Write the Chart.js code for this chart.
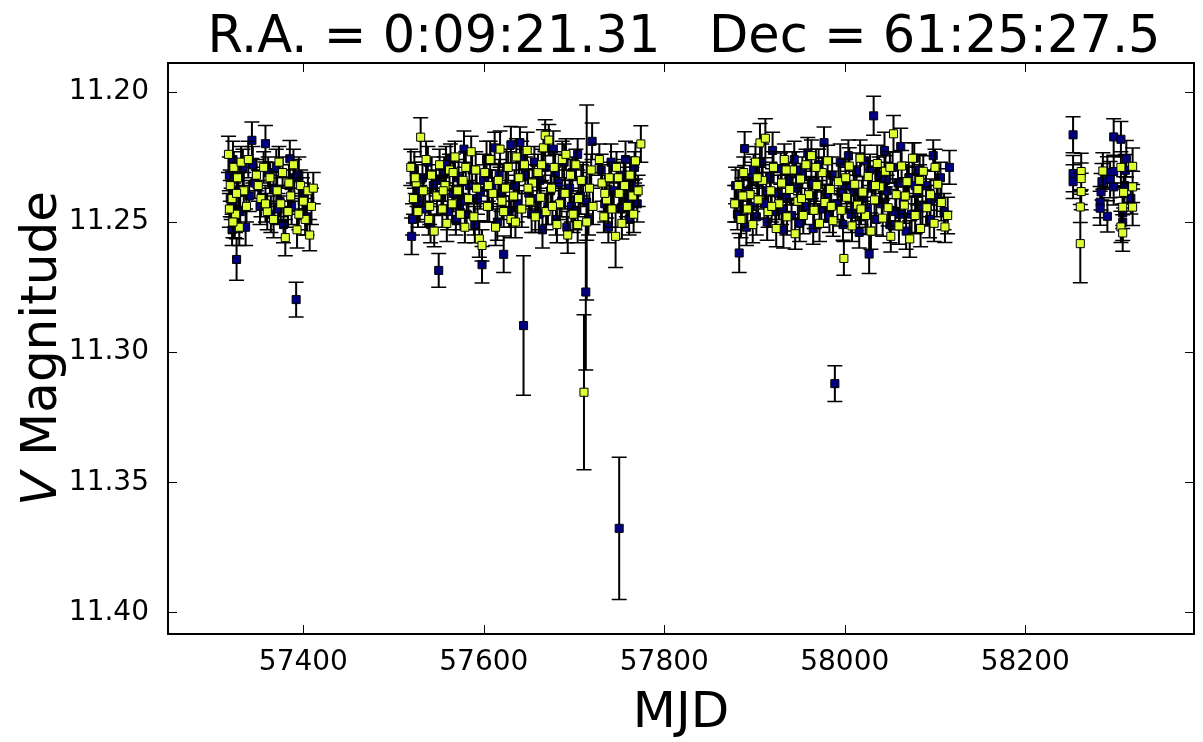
<!DOCTYPE html>
<html><head><meta charset="utf-8">
<script src="https://cdn.jsdelivr.net/npm/chart.js@4.4.1/dist/chart.umd.min.js"></script>
<style>html,body{margin:0;padding:0;background:#fff;}#wrap{width:1203px;height:742px;}</style>
</head><body><div id="wrap"><canvas id="c" width="1203" height="742"></canvas></div>
<script>
// ---- data: [MJD, V magnitude, error] ----
const navyS1 = [[57318,11.232,0.007],[57320,11.243,0.006],[57322,11.226,0.007],[57324,11.250,0.006],[57326,11.2644,0.008],[57328,11.238,0.007],[57330,11.246,0.006],[57333,11.229,0.007],[57336,11.252,0.007],[57340,11.240,0.006],[57343,11.2186,0.007],[57346,11.235,0.006],[57352,11.244,0.007],[57358,11.2199,0.007],[57361,11.231,0.006],[57364,11.247,0.007],[57367,11.237,0.006],[57370,11.229,0.007],[57374,11.242,0.006],[57378,11.251,0.007],[57385,11.2257,0.007],[57384,11.236,0.006],[57387,11.244,0.007],[57392,11.2798,0.0067],[57395,11.232,0.007],[57399,11.239,0.006],[57404,11.248,0.007],[57319,11.241,0.007],[57321,11.253,0.006],[57344,11.228,0.007],[57372,11.245,0.006],[57390,11.233,0.007]];
const yellowS1 = [[57317,11.224,0.007],[57319,11.236,0.006],[57321,11.241,0.007],[57323,11.229,0.006],[57325,11.247,0.007],[57327,11.233,0.006],[57329,11.252,0.007],[57331,11.227,0.006],[57334,11.238,0.007],[57337,11.244,0.006],[57339,11.226,0.007],[57350,11.236,0.006],[57353,11.241,0.007],[57356,11.229,0.006],[57360,11.246,0.007],[57363,11.233,0.006],[57367,11.249,0.007],[57371,11.238,0.006],[57375,11.243,0.007],[57377,11.231,0.006],[57380,11.256,0.007],[57383,11.246,0.006],[57386,11.240,0.007],[57389,11.228,0.006],[57393,11.253,0.007],[57397,11.236,0.006],[57400,11.242,0.007],[57402,11.249,0.006],[57405,11.238,0.007],[57407,11.255,0.006],[57409,11.244,0.007],[57411,11.237,0.006],[57318,11.245,0.007],[57322,11.250,0.006],[57326,11.239,0.007],[57348,11.232,0.006],[57358,11.243,0.007],[57373,11.227,0.006],[57384,11.235,0.007],[57395,11.247,0.006]];
const navyS2 = [[57520,11.2555,0.007],[57521,11.249,0.006],[57523,11.230,0.007],[57526,11.238,0.006],[57529,11.243,0.007],[57532,11.233,0.006],[57535,11.245,0.007],[57538,11.227,0.006],[57541,11.251,0.007],[57544,11.236,0.006],[57550,11.2686,0.0065],[57553,11.240,0.007],[57556,11.231,0.006],[57560,11.246,0.007],[57563,11.226,0.006],[57566,11.239,0.007],[57569,11.249,0.006],[57572,11.233,0.007],[57575,11.242,0.006],[57578,11.222,0.007],[57581,11.247,0.006],[57584,11.236,0.007],[57587,11.230,0.006],[57590,11.251,0.007],[57593,11.241,0.006],[57598,11.2664,0.007],[57600,11.234,0.006],[57603,11.226,0.007],[57606,11.244,0.006],[57609,11.237,0.007],[57612,11.2215,0.006],[57615,11.250,0.007],[57619,11.240,0.006],[57622,11.2624,0.007],[57625,11.229,0.007],[57628,11.246,0.006],[57630,11.2203,0.007],[57634,11.236,0.006],[57637,11.243,0.007],[57640,11.2195,0.006],[57644,11.2898,0.0268],[57646,11.232,0.007],[57650,11.239,0.006],[57653,11.247,0.007],[57656,11.227,0.006],[57659,11.241,0.007],[57662,11.234,0.006],[57665,11.253,0.007],[57668,11.229,0.006],[57671,11.244,0.007],[57674,11.238,0.006],[57677,11.222,0.007],[57680,11.249,0.006],[57683,11.235,0.007],[57686,11.242,0.006],[57689,11.227,0.007],[57692,11.252,0.006],[57695,11.237,0.007],[57698,11.231,0.006],[57701,11.246,0.007],[57704,11.224,0.006],[57707,11.240,0.007],[57713,11.2769,0.030],[57714,11.2425,0.0375],[57716,11.249,0.006],[57720,11.219,0.007],[57730,11.230,0.006],[57734,11.243,0.007],[57738,11.252,0.006],[57741,11.227,0.007],[57744,11.238,0.006],[57750,11.3677,0.0273],[57752,11.245,0.007],[57755,11.232,0.006],[57758,11.241,0.007],[57761,11.249,0.006],[57764,11.236,0.007],[57767,11.229,0.006],[57770,11.243,0.007],[57527,11.242,0.007],[57547,11.234,0.006],[57558,11.228,0.007],[57573,11.245,0.006],[57596,11.238,0.007],[57617,11.232,0.006],[57642,11.226,0.007],[57661,11.247,0.006],[57679,11.231,0.007],[57697,11.244,0.006],[57710,11.234,0.007],[57736,11.240,0.006],[57757,11.226,0.007]];
const yellowS2 = [[57519,11.229,0.007],[57522,11.241,0.006],[57525,11.235,0.007],[57527,11.246,0.006],[57530,11.2174,0.0075],[57533,11.238,0.006],[57536,11.226,0.007],[57539,11.249,0.006],[57542,11.232,0.007],[57545,11.2535,0.006],[57548,11.240,0.007],[57551,11.228,0.006],[57554,11.245,0.007],[57557,11.236,0.006],[57559,11.2505,0.007],[57562,11.230,0.006],[57565,11.243,0.007],[57568,11.225,0.006],[57571,11.238,0.007],[57574,11.247,0.006],[57577,11.234,0.007],[57580,11.229,0.006],[57583,11.241,0.007],[57586,11.223,0.006],[57589,11.248,0.007],[57592,11.237,0.006],[57595,11.2565,0.007],[57598,11.259,0.006],[57601,11.231,0.007],[57604,11.244,0.006],[57607,11.226,0.007],[57610,11.239,0.006],[57613,11.252,0.007],[57616,11.234,0.006],[57618,11.222,0.007],[57622,11.246,0.006],[57624,11.237,0.007],[57627,11.229,0.006],[57630,11.249,0.007],[57633,11.240,0.006],[57636,11.225,0.007],[57639,11.233,0.006],[57642,11.245,0.007],[57645,11.228,0.006],[57648,11.2225,0.007],[57651,11.242,0.006],[57654,11.235,0.007],[57657,11.248,0.006],[57660,11.231,0.007],[57663,11.2405,0.006],[57666,11.2215,0.007],[57668,11.2167,0.006],[57669,11.246,0.007],[57672,11.2185,0.006],[57675,11.237,0.007],[57678,11.229,0.006],[57681,11.251,0.007],[57684,11.243,0.006],[57687,11.226,0.007],[57690,11.239,0.006],[57693,11.255,0.007],[57696,11.232,0.006],[57699,11.247,0.007],[57702,11.228,0.006],[57705,11.241,0.007],[57708,11.234,0.006],[57711,11.3154,0.0298],[57714,11.250,0.007],[57717,11.237,0.006],[57721,11.244,0.007],[57728,11.226,0.006],[57731,11.235,0.007],[57733,11.248,0.006],[57736,11.2415,0.007],[57739,11.233,0.006],[57742,11.245,0.007],[57746,11.2555,0.012],[57747,11.229,0.006],[57750,11.239,0.007],[57753,11.2505,0.006],[57756,11.236,0.007],[57759,11.244,0.006],[57762,11.232,0.007],[57765,11.240,0.006],[57768,11.2265,0.007],[57771,11.238,0.006],[57774,11.220,0.007],[57524,11.233,0.006],[57540,11.244,0.007],[57555,11.238,0.006],[57566,11.231,0.007],[57579,11.252,0.006],[57591,11.230,0.007],[57605,11.236,0.006],[57620,11.242,0.007],[57635,11.250,0.006],[57649,11.237,0.007],[57664,11.228,0.006],[57676,11.244,0.007],[57691,11.224,0.006],[57704,11.251,0.007],[57719,11.230,0.006],[57734,11.239,0.007],[57749,11.233,0.006],[57766,11.247,0.007]];
const navyS3 = [[57879,11.236,0.007],[57881,11.247,0.006],[57883,11.2619,0.0075],[57886,11.240,0.007],[57889,11.2218,0.0065],[57891,11.252,0.007],[57893,11.238,0.006],[57896,11.244,0.007],[57899,11.230,0.006],[57902,11.248,0.007],[57905,11.235,0.006],[57908,11.227,0.007],[57911,11.243,0.006],[57914,11.250,0.007],[57917,11.233,0.006],[57920,11.2225,0.007],[57923,11.246,0.006],[57926,11.239,0.007],[57929,11.2295,0.006],[57932,11.253,0.007],[57935,11.241,0.006],[57938,11.234,0.007],[57941,11.2475,0.006],[57944,11.226,0.007],[57947,11.237,0.006],[57950,11.2505,0.007],[57953,11.231,0.006],[57956,11.244,0.007],[57959,11.2235,0.006],[57962,11.240,0.007],[57965,11.2525,0.006],[57968,11.236,0.007],[57971,11.228,0.006],[57974,11.245,0.007],[57977,11.2195,0.006],[57980,11.239,0.007],[57983,11.248,0.006],[57986,11.232,0.007],[57989,11.3121,0.0069],[57992,11.243,0.006],[57995,11.227,0.007],[57998,11.251,0.006],[58001,11.236,0.007],[58004,11.2245,0.006],[58007,11.247,0.007],[58010,11.238,0.006],[58013,11.2305,0.007],[58016,11.254,0.006],[58019,11.241,0.007],[58022,11.2265,0.006],[58025,11.245,0.007],[58027,11.2623,0.0075],[58030,11.236,0.006],[58032,11.2092,0.0075],[58035,11.249,0.006],[58038,11.232,0.007],[58041,11.243,0.006],[58044,11.2225,0.007],[58047,11.238,0.006],[58050,11.251,0.007],[58053,11.229,0.006],[58056,11.246,0.007],[58059,11.235,0.006],[58062,11.221,0.007],[58065,11.242,0.006],[58068,11.2535,0.007],[58071,11.233,0.006],[58074,11.247,0.007],[58077,11.2255,0.006],[58080,11.239,0.007],[58083,11.230,0.006],[58086,11.244,0.007],[58090,11.236,0.006],[58094,11.249,0.007],[58098,11.2245,0.006],[58102,11.241,0.007],[58106,11.233,0.006],[58110,11.246,0.007],[58116,11.229,0.0065],[57880,11.243,0.007],[57897,11.233,0.006],[57913,11.238,0.007],[57930,11.245,0.006],[57946,11.230,0.007],[57963,11.235,0.006],[57979,11.243,0.007],[57996,11.239,0.006],[58012,11.245,0.007],[58028,11.230,0.006],[58045,11.234,0.007],[58061,11.247,0.006],[58078,11.236,0.007],[58095,11.242,0.006]];
const yellowS3 = [[57878,11.243,0.007],[57882,11.236,0.006],[57885,11.249,0.007],[57888,11.231,0.006],[57892,11.245,0.007],[57895,11.2395,0.006],[57898,11.251,0.007],[57901,11.227,0.006],[57904,11.2415,0.007],[57906,11.2196,0.0075],[57909,11.234,0.006],[57912,11.2178,0.0075],[57915,11.246,0.006],[57918,11.238,0.007],[57921,11.229,0.006],[57924,11.2525,0.007],[57927,11.243,0.006],[57930,11.235,0.007],[57933,11.226,0.006],[57936,11.248,0.007],[57939,11.2375,0.006],[57942,11.230,0.007],[57945,11.2545,0.006],[57948,11.242,0.007],[57951,11.2335,0.006],[57954,11.2475,0.007],[57957,11.228,0.006],[57960,11.2395,0.007],[57963,11.2245,0.006],[57966,11.2455,0.007],[57969,11.236,0.006],[57972,11.2505,0.007],[57975,11.231,0.006],[57978,11.2425,0.007],[57981,11.2265,0.006],[57984,11.2375,0.007],[57987,11.2495,0.006],[57993,11.2345,0.007],[57996,11.2455,0.006],[57999,11.264,0.0065],[58002,11.2405,0.006],[58005,11.2285,0.007],[58008,11.2515,0.006],[58011,11.2355,0.007],[58014,11.2435,0.006],[58017,11.2255,0.007],[58020,11.2385,0.006],[58023,11.2475,0.007],[58026,11.2325,0.006],[58029,11.2535,0.007],[58033,11.2415,0.006],[58036,11.2275,0.007],[58039,11.2365,0.006],[58042,11.2485,0.007],[58045,11.2305,0.006],[58048,11.2445,0.007],[58051,11.2555,0.006],[58054,11.2161,0.007],[58057,11.2395,0.006],[58060,11.2515,0.007],[58063,11.2285,0.006],[58066,11.2435,0.007],[58069,11.2345,0.006],[58072,11.2565,0.007],[58075,11.2255,0.006],[58078,11.2475,0.007],[58081,11.2375,0.006],[58084,11.2525,0.007],[58087,11.2305,0.006],[58091,11.2445,0.007],[58095,11.2395,0.006],[58099,11.2505,0.007],[58103,11.2355,0.006],[58107,11.2425,0.007],[58111,11.2519,0.006],[58114,11.2475,0.007],[57887,11.240,0.006],[57903,11.233,0.007],[57919,11.244,0.006],[57935,11.230,0.007],[57952,11.241,0.006],[57968,11.229,0.007],[57985,11.244,0.006],[58001,11.233,0.007],[58018,11.245,0.006],[58034,11.236,0.007],[58050,11.229,0.006],[58067,11.240,0.007],[58083,11.234,0.006],[58100,11.229,0.007]];
const navyS4 = [[58253,11.2165,0.0069],[58253,11.2314,0.007],[58253,11.2345,0.0065],[58284,11.2384,0.007],[58283,11.2424,0.006],[58283,11.2447,0.0065],[58285,11.2345,0.007],[58291,11.2309,0.006],[58294,11.2337,0.007],[58291,11.2478,0.006],[58298,11.2173,0.007],[58298,11.2306,0.006],[58298,11.2365,0.007],[58306,11.2182,0.0068],[58312,11.2257,0.007],[58311,11.2301,0.006],[58310,11.236,0.007],[58308,11.2465,0.006],[58308,11.2501,0.007],[58317,11.2409,0.006]];
const yellowS4 = [[58262,11.2306,0.007],[58262,11.2333,0.006],[58262,11.2383,0.007],[58261,11.2442,0.006],[58261,11.2583,0.015],[58286,11.2304,0.007],[58306,11.229,0.006],[58319,11.2286,0.007],[58319,11.2365,0.006],[58319,11.2443,0.007],[58309,11.2386,0.006],[58308,11.2443,0.007],[58306,11.2519,0.006],[58308,11.2542,0.007]];

const xTicks = [57400, 57600, 57800, 58000, 58200];
const yTicks = [11.20, 11.25, 11.30, 11.35, 11.40];
const titleText = 'R.A. = 0:09:21.31   Dec = 61:25:27.5';

const FONT = "'DejaVu Sans', 'Liberation Sans', sans-serif";
const toPts = arrs => [].concat(...arrs).map(p => ({x: p[0], y: p[1], err: p[2]}));

const errorBars = {
  id: 'errorBars',
  beforeDatasetDraw(chart, args) {
    const ds = chart.data.datasets[args.index];
    const {ctx, chartArea: a, scales: {x, y}} = chart;
    ctx.save();
    ctx.beginPath(); ctx.rect(a.left, a.top, a.right - a.left, a.bottom - a.top); ctx.clip();
    ctx.strokeStyle = '#000';
    ctx.lineWidth = 2;
    ctx.beginPath();
    ds.data.forEach(p => {
      const px = x.getPixelForValue(p.x);
      ctx.moveTo(px, y.getPixelForValue(p.y - p.err));
      ctx.lineTo(px, y.getPixelForValue(p.y + p.err));
    });
    ctx.stroke();
    ctx.lineWidth = 1.5;
    ctx.beginPath();
    ds.data.forEach(p => {
      const px = x.getPixelForValue(p.x);
      const y1 = y.getPixelForValue(p.y - p.err), y2 = y.getPixelForValue(p.y + p.err);
      ctx.moveTo(px - 7.5, y1); ctx.lineTo(px + 7.5, y1);
      ctx.moveTo(px - 7.5, y2); ctx.lineTo(px + 7.5, y2);
    });
    ctx.stroke();
    ctx.restore();
  }
};

const frame = {
  id: 'frame',
  afterDraw(chart) {
    const {ctx, chartArea: a, scales: {x, y}} = chart;
    ctx.save();
    ctx.strokeStyle = '#000';
    ctx.lineWidth = 1;
    ctx.beginPath();
    xTicks.forEach(v => {
      const px = Math.round(x.getPixelForValue(v)) + 0.5;
      ctx.moveTo(px, a.bottom); ctx.lineTo(px, a.bottom - 9);
      ctx.moveTo(px, a.top); ctx.lineTo(px, a.top + 9);
    });
    yTicks.forEach(v => {
      const py = Math.round(y.getPixelForValue(v)) + 0.5;
      ctx.moveTo(a.left, py); ctx.lineTo(a.left + 9, py);
      ctx.moveTo(a.right, py); ctx.lineTo(a.right - 9, py);
    });
    ctx.stroke();
    ctx.lineWidth = 2;
    ctx.strokeRect(a.left, a.top, a.right - a.left, a.bottom - a.top);
    ctx.fillStyle = '#000';
    ctx.textBaseline = 'alphabetic';
    ctx.textAlign = 'center';
    // title
    ctx.font = '51px ' + FONT;
    ctx.fillText(titleText, (a.left + a.right) / 2 + 3, 52);
    // axis labels
    ctx.font = '50px ' + FONT;
    ctx.fillText('MJD', (a.left + a.right) / 2, 727);
    ctx.save();
    ctx.translate(56, (a.top + a.bottom) / 2);
    ctx.rotate(-Math.PI / 2);
    ctx.textAlign = 'left';
    ctx.font = 'italic 50px ' + FONT;
    const wV = ctx.measureText('V').width;
    ctx.font = '50px ' + FONT;
    const wR = ctx.measureText(' Magnitude').width;
    const x0 = -(wV + wR) / 2;
    ctx.font = 'italic 50px ' + FONT;
    ctx.fillText('V', x0, 0);
    ctx.font = '50px ' + FONT;
    ctx.fillText(' Magnitude', x0 + wV, 0);
    ctx.restore();
    ctx.restore();
  }
};

new Chart(document.getElementById('c'), {
  type: 'scatter',
  data: {
    datasets: [
      {label: 'navy', data: toPts([navyS1, navyS2, navyS3, navyS4]), order: 2,
       pointStyle: 'rect', pointRadius: 5.7, pointBorderWidth: 1, borderColor: '#000', backgroundColor: '#000080'},
      {label: 'yellow', data: toPts([yellowS1, yellowS2, yellowS3, yellowS4]), order: 1,
       pointStyle: 'rect', pointRadius: 5.7, pointBorderWidth: 1, borderColor: '#000', backgroundColor: '#dcff32'}
    ]
  },
  options: {
    responsive: false, animation: false,
    layout: {padding: {left: 0, right: 9, top: 63, bottom: 0}},
    plugins: {legend: {display: false}, tooltip: {enabled: false}, title: {display: false}},
    scales: {
      x: {type: 'linear', min: 57250, max: 58387,
          grid: {display: false}, border: {display: false},
          afterBuildTicks: s => { s.ticks = xTicks.map(v => ({value: v})); },
          afterFit: s => { s.height = 108; },
          ticks: {font: {family: FONT, size: 28}, color: '#000', padding: 4, maxRotation: 0, autoSkip: false,
                  callback: v => String(v)}},
      y: {type: 'linear', reverse: true, min: 11.1889, max: 11.4083,
          grid: {display: false}, border: {display: false},
          afterBuildTicks: s => { s.ticks = yTicks.map(v => ({value: v})); },
          afterFit: s => { s.width = 168; },
          ticks: {font: {family: FONT, size: 28}, color: '#000', padding: 11, autoSkip: false,
                  callback: v => v.toFixed(2)}}
    }
  },
  plugins: [errorBars, frame]
});
</script></body></html>
